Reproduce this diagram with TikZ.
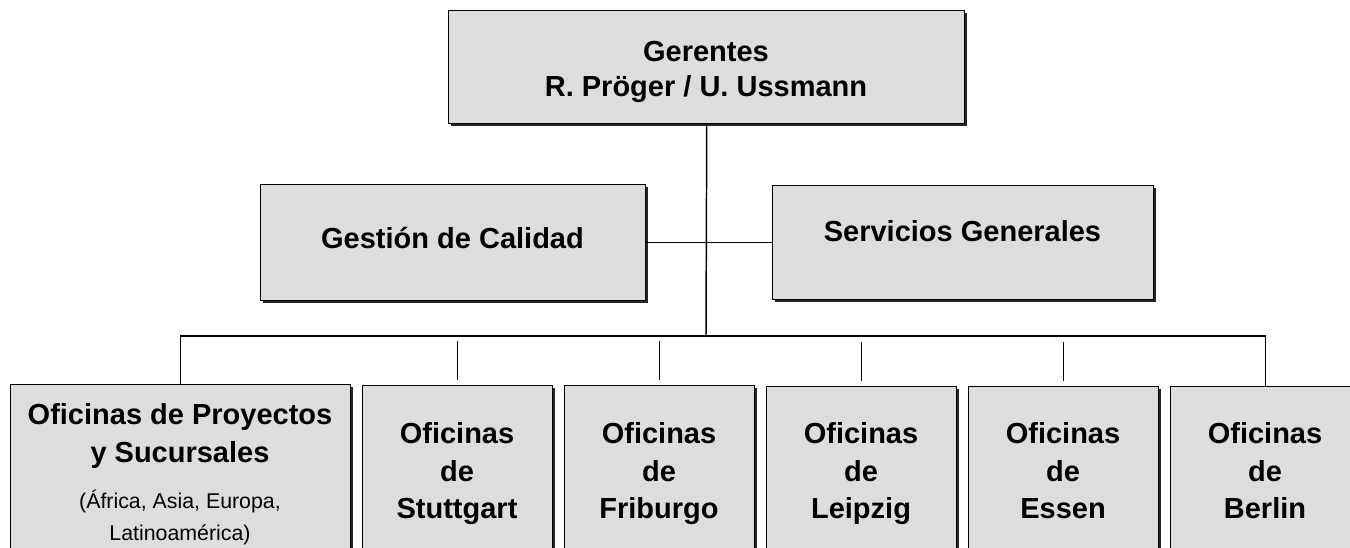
\documentclass[tikz,border=0pt]{standalone}
\usepackage{fontspec}
\setmainfont{Liberation Sans}
\usetikzlibrary{shadows}
\definecolor{boxgray}{RGB}{221,221,221}
\newcommand\bigbold{\fontsize{21.75}{26.25}\selectfont\bfseries}
\newcommand\bigboldb{\fontsize{21.75}{28.1}\selectfont\bfseries}
\newcommand\bigboldc{\fontsize{21.75}{28.5}\selectfont\bfseries}
\newcommand\smallreg{\fontsize{16}{24}\selectfont}
\begin{document}
\begin{tikzpicture}[x=0.75pt,y=-0.75pt,
  box/.style={draw=black, line width=1.1pt, fill=boxgray, anchor=north west, inner sep=0pt,
    drop shadow={shadow xshift=1.5pt, shadow yshift=-1.5pt, fill=black!85, opacity=1}},
  lowbox/.style={box, minimum width=142.5pt, minimum height=150pt},
  conn/.style={draw=black, line width=1.1pt},
  lbl/.style={anchor=base, inner sep=0pt, font=\bigbold},
  cityl/.style={anchor=base, inner sep=0pt, font=\bigboldb},
]
\useasboundingbox (0,0) rectangle (1350,548);
\clip (0,0) rectangle (1350,548);

% boxes
\node[box, minimum width=387pt, minimum height=84.75pt] (ger) at (448,10) {};
\node[box, minimum width=288.75pt, minimum height=87pt] (qual) at (260,184) {};
\node[box, minimum width=285.75pt, minimum height=85.5pt] (serv) at (772,185) {};
\node[box, minimum width=255pt, minimum height=150pt] (b1) at (10,384) {};
\node[lowbox] (b2) at (362,385) {};
\node[lowbox] (b3) at (564,385) {};
\node[lowbox] (b4) at (766,386) {};
\node[lowbox] (b5) at (968,386) {};
\node[lowbox] (b6) at (1170,386) {};

% texts
\node[lbl] (tger) at (706,62) {\begin{tabular}[t]{@{}c@{}}Gerentes\\R. Pröger / U. Ussmann\end{tabular}};
\node[lbl] (tqual) at (452.5,249) {Gestión de Calidad};
\node[lbl] (tserv) at (962.5,242) {Servicios Generales};
\node[anchor=base, inner sep=0pt, font=\bigboldc] (tb1) at (180,425) {\begin{tabular}[t]{@{}c@{}}Oficinas de Proyectos\\y Sucursales\end{tabular}};
\node[anchor=base, inner sep=0pt, font=\smallreg] (tb1s) at (180,509) {\begin{tabular}[t]{@{}c@{}}(África, Asia, Europa,\\Latinoamérica)\end{tabular}};
\node[cityl] (tb2) at (457,444) {\begin{tabular}[t]{@{}c@{}}Oficinas\\de\\Stuttgart\end{tabular}};
\node[cityl] (tb3) at (659,444) {\begin{tabular}[t]{@{}c@{}}Oficinas\\de\\Friburgo\end{tabular}};
\node[cityl] (tb4) at (861,444) {\begin{tabular}[t]{@{}c@{}}Oficinas\\de\\Leipzig\end{tabular}};
\node[cityl] (tb5) at (1063,444) {\begin{tabular}[t]{@{}c@{}}Oficinas\\de\\Essen\end{tabular}};
\node[cityl] (tb6) at (1265,444) {\begin{tabular}[t]{@{}c@{}}Oficinas\\de\\Berlin\end{tabular}};

% connectors
\coordinate (hub) at (706,336);
\draw[conn] (ger.south) -- (hub);
\draw[conn] (qual.east) -- (serv.west);
\draw[conn] (b1.north) |- (hub) -| (b6.north);
\foreach \b in {b2,b3,b4,b5}{
  \draw[conn] ([yshift=3.75pt]\b.north) -- ++(0,-39);
}
\end{tikzpicture}
\end{document}
